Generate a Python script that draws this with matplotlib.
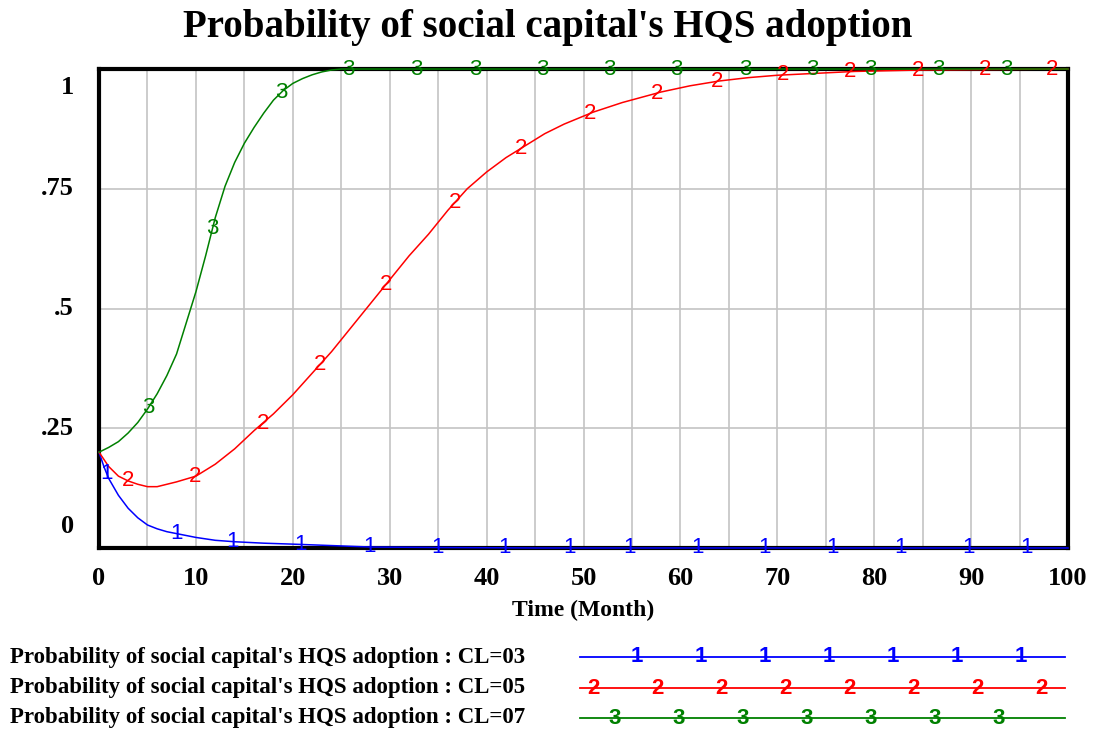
import numpy as np
import matplotlib.pyplot as plt
from matplotlib.transforms import offset_copy

# Simulated runs (time in months, probability of adoption)
t_cl03 = [0, 0.5, 1, 2, 3, 4, 5, 6, 7, 8, 10, 12, 14, 17, 20, 24, 28, 35, 45, 100]
p_cl03 = [0.2, 0.17, 0.145, 0.11, 0.083, 0.063, 0.048, 0.04, 0.034, 0.03,
          0.022, 0.016, 0.013, 0.01, 0.008, 0.005, 0.002, 0.001, 0.0, 0.0]

t_cl05 = [0, 1, 2, 3, 4, 5, 6, 8, 10, 12, 14, 16, 18, 20, 22, 24, 26, 28, 30,
          32, 34, 36, 38, 40, 42, 44, 46, 48, 51, 54, 58, 61, 64, 67, 70, 78, 85, 100]
p_cl05 = [0.2, 0.17, 0.15, 0.14, 0.133, 0.128, 0.128, 0.138, 0.15, 0.175,
          0.207, 0.245, 0.28, 0.32, 0.365, 0.41, 0.46, 0.51, 0.56, 0.61, 0.655,
          0.705, 0.75, 0.785, 0.815, 0.84, 0.865, 0.885, 0.91, 0.93, 0.952,
          0.965, 0.975, 0.982, 0.987, 0.995, 0.998, 1.0]

t_cl07 = [0, 1, 2, 3, 4, 5, 6, 7, 8, 9, 10, 11, 12, 13, 14, 15, 16, 17, 18,
          19, 20, 21, 22, 23, 24, 25, 100]
p_cl07 = [0.2, 0.21, 0.222, 0.24, 0.262, 0.29, 0.322, 0.36, 0.405, 0.47, 0.535,
          0.61, 0.69, 0.755, 0.805, 0.845, 0.878, 0.908, 0.935, 0.955, 0.97,
          0.98, 0.988, 0.994, 0.998, 1.0, 1.0]

# where the numbered run markers sit along each curve
mk_cl03 = [0.8, 8.0, 13.8, 20.8, 27.9, 34.9, 41.8, 48.6, 54.7, 61.8, 68.7, 75.7, 82.7, 89.7, 95.7]
mk_cl05 = [3.0, 9.9, 16.9, 22.8, 29.6, 36.7, 43.6, 50.7, 57.6, 63.8, 70.6, 77.5, 84.5, 91.4, 98.4]
mk_cl07 = [5.1, 11.7, 18.8, 25.7, 32.7, 38.8, 45.7, 52.7, 59.6, 66.7, 73.6, 79.6, 86.6, 93.6]

run_labels = ["Probability of social capital's HQS adoption : CL=03",
              "Probability of social capital's HQS adoption : CL=05",
              "Probability of social capital's HQS adoption : CL=07"]
run_ids = ['1', '2', '3']
colors = ['#0000ff', '#ff0000', '#008000']
legend_marks = [7, 8, 7]

x_ticks = [0, 10, 20, 30, 40, 50, 60, 70, 80, 90, 100]
y_ticks = [0, 0.25, 0.5, 0.75, 1]
y_ticklabels = ['0', '.25', '.5', '.75', '1']

serif = 'Liberation Serif'
sans = 'Liberation Sans'

fig = plt.figure(figsize=(11.09, 7.32), dpi=100)
ax = fig.add_axes([0.0893, 0.2514, 0.8737, 0.6543])

runs = [(t_cl03, p_cl03, mk_cl03), (t_cl05, p_cl05, mk_cl05), (t_cl07, p_cl07, mk_cl07)]
for (t, p, mk), c, rid in zip(runs, colors, run_ids):
    ax.plot(t, p, color=c, lw=1.1, zorder=4, clip_on=False)
    for xm in mk:
        ax.text(xm, np.interp(xm, t, p), rid, color=c, fontsize=16, family=sans,
                ha='center', va='center', zorder=5, clip_on=False)

ax.set_xlim(0, 100)
ax.set_ylim(0, 1)
ax.set_xticks(x_ticks)
ax.set_xticklabels([str(v) for v in x_ticks], fontsize=19, family=serif, fontweight='bold')
ax.set_xticks(np.arange(0, 101, 5), minor=True)
ax.set_yticks(y_ticks)
ax.set_yticklabels([])
ax.tick_params(which='both', length=0)
ax.tick_params(axis='x', pad=14)

# y labels: the end ones are pulled inside the frame
for v, lab in zip(y_ticks, y_ticklabels):
    dy = -18 if v == 1 else (21 if v == 0 else 0)
    tr = offset_copy(ax.get_yaxis_transform(), fig=fig, x=-25, y=dy, units='dots')
    ax.text(0, v, lab, transform=tr, ha='right', va='center', fontsize=19,
            family=serif, fontweight='bold')

ax.grid(which='both', axis='x', color='#c4c4c4', lw=1.2)
ax.grid(which='major', axis='y', color='#c4c4c4', lw=1.2)
ax.set_axisbelow(True)
for s in ax.spines.values():
    s.set_linewidth(3)
    s.set_color('black')
    s.set_zorder(3)

ax.set_xlabel('Time (Month)', fontsize=17, family=serif, fontweight='bold', labelpad=7)
fig.text(0.494, 0.962, "Probability of social capital's HQS adoption", ha='center',
         va='center', fontsize=28, family=serif, fontweight='bold')

# legend block under the plot
row_y = [657, 688, 718]
for lab, y, c, rid, start, n in zip(run_labels, row_y, colors, run_ids,
                                    [637, 593, 615], legend_marks):
    yf = 1 - y / 732
    fig.text(10 / 1109, yf, lab, ha='left', va='center', fontsize=16.5,
             family=serif, fontweight='bold')
    fig.add_artist(plt.Line2D([580 / 1109, 1065 / 1109], [yf, yf], color=c, lw=1.3))
    for i in range(n):
        fig.text((start + 64 * i) / 1109, yf, rid, color=c, ha='center', va='center',
                 fontsize=16, family=sans, fontweight='bold')

fig.savefig('out.png', dpi=100)
